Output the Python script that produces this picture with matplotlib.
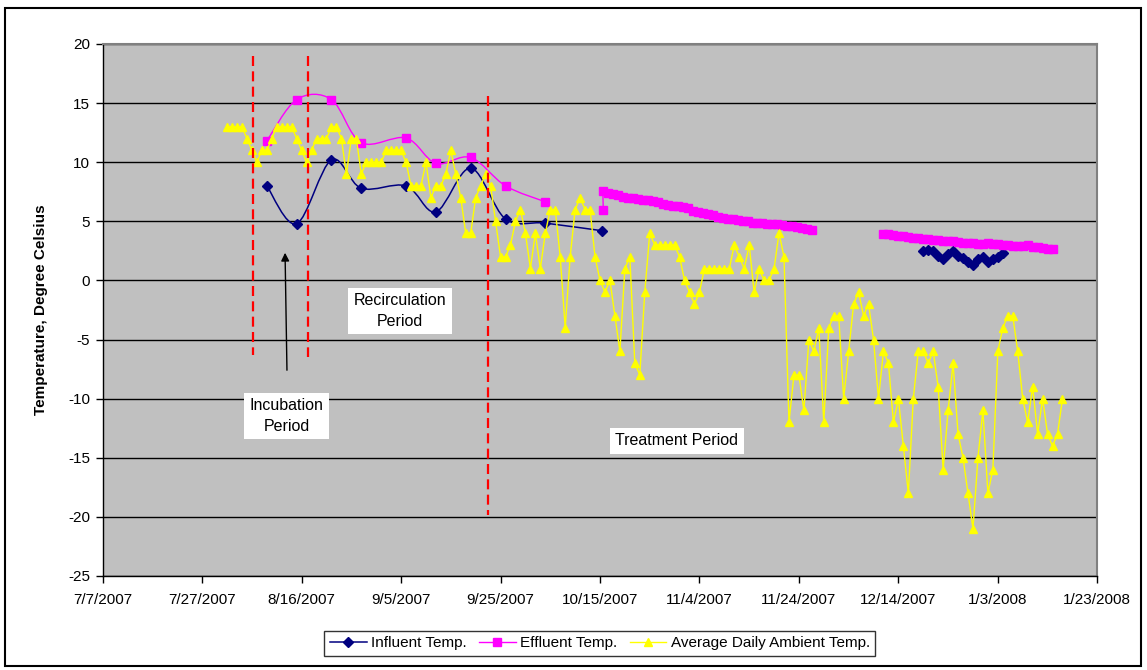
import matplotlib
matplotlib.use("Agg")
import matplotlib.pyplot as plt
import matplotlib.dates as mdates
import numpy as np
import pandas as pd
from matplotlib.path import Path
from matplotlib.patches import PathPatch, Rectangle
from matplotlib.lines import Line2D

plt.rcParams['font.family'] = ['Liberation Sans', 'DejaVu Sans']

# ---------------- data ----------------
influent_dates = ["2007-08-09", "2007-08-15", "2007-08-22", "2007-08-28", "2007-09-06",
                  "2007-09-12", "2007-09-19", "2007-09-26", "2007-10-04", "2007-10-15 12:00"]
influent_vals = [8.0, 4.8, 10.2, 7.8, 8.0, 5.8, 9.5, 5.2, 4.85, 4.2]

influent_late_start = "2007-12-19"
influent_late_vals = [2.5, 2.6, 2.5, 2.1, 1.8, 2.2, 2.5, 2.1, 1.9, 1.6, 1.3, 1.8, 2.0, 1.6,
                      1.8, 2.0, 2.3]

effluent_dates = ["2007-08-09", "2007-08-15", "2007-08-22", "2007-08-28", "2007-09-06",
                  "2007-09-12", "2007-09-19", "2007-09-26", "2007-10-04"]
effluent_vals = [11.8, 15.3, 15.3, 11.65, 12.05, 9.9, 10.4, 8.0, 6.65]

effluent_mid_start = "2007-10-15 16:00"
effluent_mid_first = 6.0
effluent_mid_vals = [7.6, 7.4, 7.3, 7.2, 7.1, 7.0, 7.0, 6.9, 6.8, 6.8, 6.7, 6.6, 6.5, 6.4,
                     6.3, 6.3, 6.2, 6.1, 5.9, 5.8, 5.7, 5.6, 5.5, 5.4, 5.3, 5.2, 5.2, 5.1,
                     5.0, 5.0, 4.9, 4.9, 4.9, 4.8, 4.8, 4.8, 4.7, 4.6, 4.6, 4.5, 4.4, 4.35, 4.3]

effluent_late_start = "2007-12-11"
effluent_late_vals = [3.9, 3.9, 3.85, 3.8, 3.75, 3.7, 3.6, 3.55, 3.5, 3.5, 3.45, 3.4, 3.35,
                      3.3, 3.3, 3.25, 3.2, 3.2, 3.15, 3.1, 3.1, 3.2, 3.1, 3.05, 3.0, 3.0,
                      2.95, 2.95, 2.9, 3.0, 2.85, 2.8, 2.75, 2.7, 2.7]

ambient_start = "2007-08-01"
ambient_vals = [13, 13, 13, 13, 12, 11, 10, 11, 11, 12, 13, 13, 13, 13, 12, 11, 10, 11, 12, 12,
                12, 13, 13, 12, 9, 12, 12, 9, 10, 10, 10, 10, 11, 11, 11, 11, 10, 8, 8, 8,
                10, 7, 8, 8, 9, 11, 9, 7, 4, 4, 7, 8, 9, 8, 5, 2, 2, 3, 5, 6,
                4, 1, 4, 1, 4, 6, 6, 2, -4, 2, 6, 7, 6, 6, 2, 0, -1, 0, -3, -6,
                1, 2, -7, -8, -1, 4, 3, 3, 3, 3, 3, 2, 0, -1, -2, -1, 1, 1, 1, 1,
                1, 1, 3, 2, 1, 3, -1, 1, 0, 0, 1, 4, 2, -12, -8, -8, -11, -5, -6, -4,
                -12, -4, -3, -3, -10, -6, -2, -1, -3, -2, -5, -10, -6, -7, -12, -10, -14, -18, -10, -6,
                -6, -7, -6, -9, -16, -11, -7, -13, -15, -18, -21, -15, -11, -18, -16, -6, -4, -3, -3, -6,
                -10, -12, -9, -13, -10, -13, -14, -13, -10]

tick_dates = ["2007-07-07", "2007-07-27", "2007-08-16", "2007-09-05", "2007-09-25", "2007-10-15",
              "2007-11-04", "2007-11-24", "2007-12-14", "2008-01-03", "2008-01-23"]
tick_labels = ["7/7/2007", "7/27/2007", "8/16/2007", "9/5/2007", "9/25/2007", "10/15/2007",
               "11/4/2007", "11/24/2007", "12/14/2007", "1/3/2008", "1/23/2008"]
y_ticks = [-25, -20, -15, -10, -5, 0, 5, 10, 15, 20]

# ---------------- helpers ----------------
def dn(dates):
    return mdates.date2num(pd.to_datetime(list(dates), format='mixed').to_pydatetime())

def smooth_path(x, y):
    x = np.asarray(x, float)
    y = np.asarray(y, float)
    n = len(x)
    verts = [(x[0], y[0])]
    codes = [Path.MOVETO]
    for i in range(n - 1):
        p0 = i - 1 if i > 0 else i
        p3 = i + 2 if i + 2 < n else i + 1
        c1 = (x[i] + (x[i + 1] - x[p0]) / 6.0, y[i] + (y[i + 1] - y[p0]) / 6.0)
        c2 = (x[i + 1] - (x[p3] - x[i]) / 6.0, y[i + 1] - (y[p3] - y[i]) / 6.0)
        verts += [c1, c2, (x[i + 1], y[i + 1])]
        codes += [Path.CURVE4] * 3
    return Path(verts, codes)

NAVY = '#000080'
MAG = '#FF00FF'
YEL = '#FFFF00'

fig = plt.figure(figsize=(11.47, 6.70), dpi=100)
ax = fig.add_axes([0.08954, 0.14030, 0.86713, 0.79403])
ax.set_facecolor('#C0C0C0')

# series x values
inf_x = dn(influent_dates)
inf_late_x = dn(pd.date_range(influent_late_start, periods=len(influent_late_vals), freq='D'))
eff_x = dn(effluent_dates)
mid_dates = pd.date_range(effluent_mid_start, periods=len(effluent_mid_vals), freq='D')
eff_mid_x = np.concatenate([dn([effluent_mid_start]), dn(mid_dates)])
eff_mid_y = [effluent_mid_first] + effluent_mid_vals
eff_late_x = dn(pd.date_range(effluent_late_start, periods=len(effluent_late_vals), freq='D'))
amb_x = dn(pd.date_range(ambient_start, periods=len(ambient_vals), freq='D'))

# influent
for xs, ys in [(inf_x, influent_vals), (inf_late_x, influent_late_vals)]:
    ax.add_patch(PathPatch(smooth_path(xs, ys), fill=False, edgecolor=NAVY, lw=1.1, zorder=3))
    ax.plot(xs, ys, ls='none', marker='D', ms=4.6, color=NAVY, mec=NAVY, zorder=4)

# effluent
for xs, ys in [(eff_x, effluent_vals), (eff_mid_x, eff_mid_y), (eff_late_x, effluent_late_vals)]:
    ax.add_patch(PathPatch(smooth_path(xs, ys), fill=False, edgecolor=MAG, lw=1.0, zorder=3))
    ax.plot(xs, ys, ls='none', marker='s', ms=5.8, color=MAG, mec=MAG, zorder=4)

# ambient
ax.plot(amb_x, ambient_vals, color=YEL, lw=1.0, marker='^', ms=5.6, mec=YEL, mfc=YEL, zorder=5)

# axes
x0 = dn(["2007-07-07"])[0]
ax.set_xlim(dn(["2007-07-07"])[0], dn(["2008-01-23"])[0])
ax.set_ylim(-25, 20)
ax.set_xticks(dn(tick_dates))
ax.set_xticklabels(tick_labels)
ax.set_yticks(y_ticks)
ax.set_yticklabels([str(v) for v in y_ticks])
ax.tick_params(axis='both', direction='out', length=5, width=1, color='black',
               labelsize=11, pad=4)
ax.tick_params(axis='x', pad=7)
ax.yaxis.grid(True, color='black', lw=1.0)
ax.set_axisbelow(True)
for s in ['left', 'bottom']:
    ax.spines[s].set_color('black')
    ax.spines[s].set_linewidth(1.0)
for s in ['top', 'right']:
    ax.spines[s].set_color('#808080')
    ax.spines[s].set_linewidth(1.5)

ax.set_ylabel("Temperature, Degree Celsius", fontsize=11, fontweight='bold')
ax.yaxis.set_label_coords(-0.055, 0.5)

# period markers (dashed red lines)
for d, ytop, ybot in [(30.2, 19.0, -6.3), (41.3, 19.0, -6.5), (77.5, 15.6, -19.8)]:
    ax.plot([x0 + d, x0 + d], [ytop, ybot], color='#FF0000', lw=1.6,
            ls=(0, (4.5, 2.4)), zorder=6)

box = dict(facecolor='white', edgecolor='none', boxstyle='square,pad=0.35')
ax.text(0.299, 0.498, "Recirculation\nPeriod", transform=ax.transAxes, ha='center',
        va='center', fontsize=11.5, bbox=box, linespacing=1.45, zorder=7)
ax.text(0.185, 0.301, "Incubation\nPeriod", transform=ax.transAxes, ha='center',
        va='center', fontsize=11.5, bbox=box, linespacing=1.45, zorder=7)
ax.text(0.5774, 0.254, "Treatment Period", transform=ax.transAxes, ha='center',
        va='center', fontsize=11.5, bbox=box, zorder=7)
ax.annotate('', xy=(0.1833, 0.6128), xytext=(0.1853, 0.3816), xycoords='axes fraction',
            arrowprops=dict(arrowstyle='-|>', color='black', lw=1.0, mutation_scale=12),
            zorder=7)

# legend
handles = [
    Line2D([], [], color=NAVY, lw=1.1, marker='D', ms=4.6, mec=NAVY),
    Line2D([], [], color=MAG, lw=1.0, marker='s', ms=5.8, mec=MAG),
    Line2D([], [], color=YEL, lw=1.0, marker='^', ms=5.6, mec=YEL),
]
leg = fig.legend(handles, ["Influent Temp.", "Effluent Temp.", "Average Daily Ambient Temp."],
                 loc='center', bbox_to_anchor=(0.523, 0.040), ncol=3, fontsize=11,
                 frameon=True, fancybox=False, edgecolor='black', handlelength=2.4,
                 columnspacing=0.8, handletextpad=0.3, borderpad=0.35)
leg.get_frame().set_linewidth(1.0)

# outer chart border
fig.patches.append(Rectangle((5 / 1147, 4 / 670), (1141 - 5) / 1147, (662 - 4) / 670,
                             transform=fig.transFigure, fill=False, ec='black', lw=1.5))

fig.savefig("out.png", dpi=100)
